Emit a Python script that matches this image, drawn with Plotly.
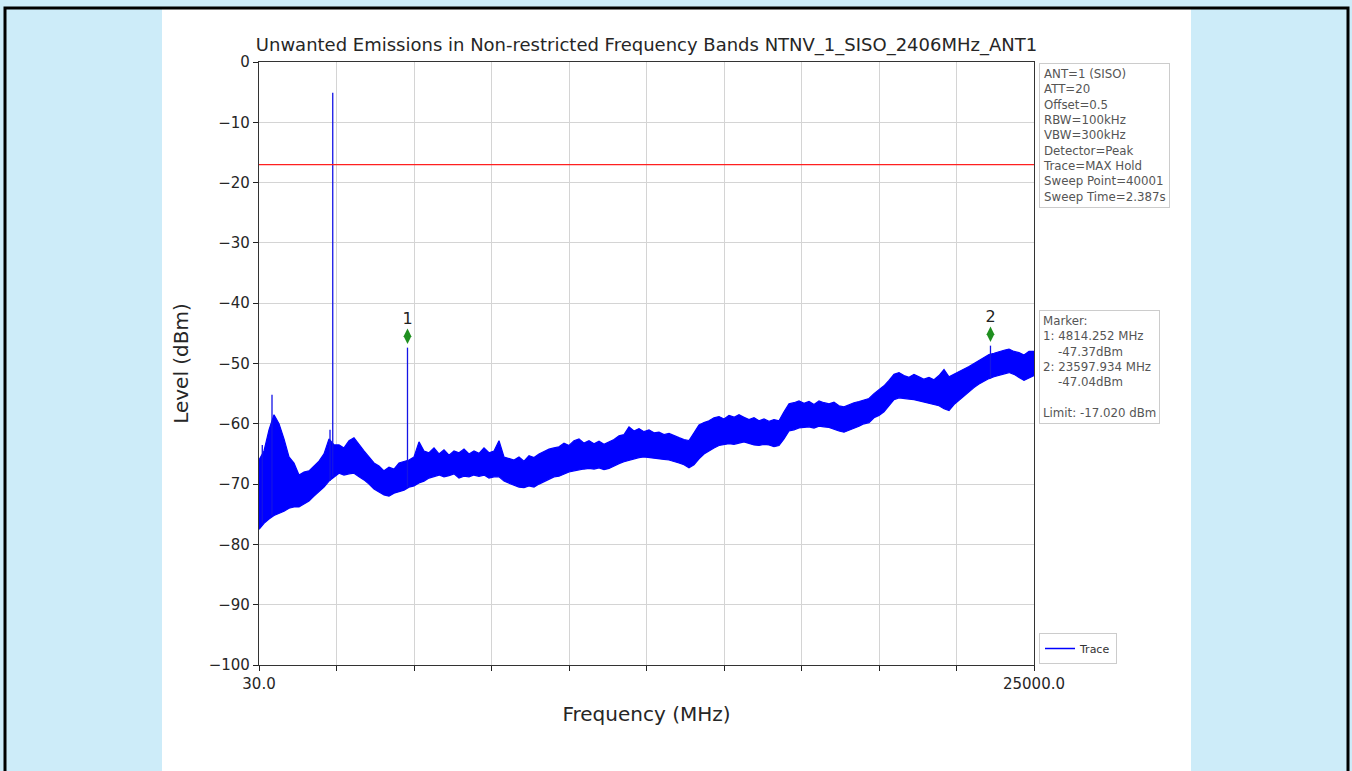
import plotly.graph_objects as go
import numpy as np

# ---------------- data ----------------
title_text = "Unwanted Emissions in Non-restricted Frequency Bands NTNV_1_SISO_2406MHz_ANT1"
f_start, f_stop = 30.0, 25000.0
limit_dbm = -17.020

n_read = 156

# upper edge of the max-hold trace (dBm)
upper_level = [
    -66.0, -64.5, -61.0, -58.5, -60.0, -62.5, -65.5, -66.5, -68.5, -68.0,
    -67.8, -67.0, -66.2, -65.0, -62.5, -63.5, -63.5, -64.0, -62.8, -62.3,
    -63.5, -64.5, -65.5, -66.5, -67.0, -67.8, -67.2, -67.5, -66.5, -66.3,
    -66.0, -65.5, -63.0, -64.5, -64.8, -64.0, -65.0, -64.3, -65.2, -64.5,
    -64.8, -64.2, -65.0, -64.5, -64.9, -64.0, -64.8, -64.5, -62.8, -65.5,
    -65.7, -66.0, -65.5, -66.2, -65.3, -65.6, -65.0, -64.6, -64.2, -64.0,
    -63.8, -63.2, -63.6, -62.8, -62.5, -63.2, -62.8, -63.3, -62.9, -63.4,
    -63.0, -62.6, -62.0, -61.8, -60.5, -61.2, -60.8, -61.3, -61.0, -61.5,
    -61.4, -61.8, -61.6, -62.0, -62.3, -62.6, -62.8, -61.5, -60.2, -59.8,
    -59.5, -59.0, -58.8, -59.2, -58.6, -58.9, -58.5, -58.9, -59.3, -59.0,
    -59.5, -59.2, -59.6, -59.3, -59.5, -58.0, -56.7, -56.5, -56.2, -56.6,
    -56.3, -56.8, -56.2, -56.5, -56.7, -56.4, -57.0, -57.2, -56.8, -56.5,
    -56.3, -56.0, -55.8, -55.0, -54.3, -53.7, -52.8, -51.8, -51.5, -52.0,
    -52.3, -51.8, -52.2, -52.6, -52.3, -52.7, -52.0, -51.0, -52.2, -51.8,
    -51.3, -50.9, -50.5, -50.0, -49.5, -49.0, -48.5, -48.3, -48.0, -47.8,
    -47.6, -48.0, -48.2, -48.6, -48.0, -48.0,
]

# lower edge of the max-hold trace (dBm)
lower_level = [
    -77.5, -76.5, -75.8, -75.2, -74.8, -74.5, -74.0, -73.8, -73.8, -73.3,
    -72.8, -72.0, -71.2, -70.5, -69.5, -68.8, -68.2, -68.5, -68.3, -68.2,
    -68.8, -69.3, -70.0, -70.8, -71.3, -71.8, -72.0, -71.5, -71.2, -71.0,
    -70.5, -70.3, -69.8, -69.5, -69.0, -68.7, -68.5, -68.8, -68.6, -68.3,
    -69.0, -68.7, -68.8, -68.5, -68.7, -68.5, -69.0, -68.8, -68.8, -69.5,
    -69.8, -70.2, -70.5, -70.6, -70.3, -70.5, -70.0, -69.5, -69.2, -68.8,
    -68.7, -68.3, -68.0, -67.8, -67.6, -67.5, -67.4, -67.5, -67.3, -67.6,
    -67.4, -67.0, -66.6, -66.3, -66.0, -65.8, -65.6, -65.5, -65.6, -65.7,
    -65.8, -65.9, -66.0, -66.2, -66.5, -66.8, -67.3, -66.8, -65.8, -65.0,
    -64.5, -64.0, -63.6, -63.5, -63.3, -63.4, -63.2, -63.0, -63.3, -63.5,
    -63.6, -63.4, -63.5, -63.8, -63.6, -62.5, -61.2, -61.0, -60.7, -60.6,
    -60.5, -60.7, -60.4, -60.5, -60.6, -60.9, -61.2, -61.4, -61.0, -60.7,
    -60.4, -60.0, -59.8, -59.0, -58.6, -58.0, -57.0, -56.0, -55.7, -55.8,
    -55.9, -56.0, -56.2, -56.3, -56.5, -56.8, -57.0, -57.5, -57.8, -56.8,
    -56.0, -55.3, -54.7, -54.0, -53.4, -52.9, -52.5, -52.2, -51.9, -51.7,
    -51.5, -51.8, -52.3, -52.8, -52.4, -52.0,
]

# narrow spikes standing out of the trace (MHz, dBm)
spike_freq = [136, 449, 2318, 2406, 4814.252, 23597.934]
spike_level = [-63.5, -55.2, -61.0, -5.1, -47.37, -47.04]

marker_ids = ["1", "2"]
marker_freq = [4814.252, 23597.934]
marker_level = [-47.37, -47.04]

info_lines = ["ANT=1 (SISO)", "ATT=20", "Offset=0.5", "RBW=100kHz", "VBW=300kHz",
              "Detector=Peak", "Trace=MAX Hold", "Sweep Point=40001", "Sweep Time=2.387s"]

y_ticks = list(range(0, -101, -10))

# ---------------- layout geometry (pixels) ----------------
W, H = 1352, 771
L, R, T, B = 259, 1034, 62, 665
pw, ph = R - L, B - T


def px_x(px):
    return (px - L) / pw


def px_y(py):
    return (B - py) / ph


BLUE = "#0000ff"
FONT = "DejaVu Sans"
TXT = "#262626"

read_freq = np.linspace(f_start, f_stop, n_read)

fig = go.Figure()

# filled band of the trace: upper edge then lower edge reversed
band_x = list(read_freq) + list(read_freq[::-1])
band_y = list(upper_level) + list(lower_level[::-1])
fig.add_trace(go.Scatter(x=band_x, y=band_y, mode="lines", fill="toself",
                         fillcolor=BLUE, line=dict(color=BLUE, width=1.2),
                         showlegend=False, hoverinfo="skip"))

# spikes: vertical strokes from the band's lower edge up to the read peak level
sx, sy = [], []
for f, lv in zip(spike_freq, spike_level):
    i = int(np.argmin(np.abs(read_freq - f)))
    sx += [f, f, None]
    sy += [lower_level[i], lv, None]
fig.add_trace(go.Scatter(x=sx, y=sy, mode="lines", line=dict(color="#1414e6", width=1.3),
                         showlegend=False, hoverinfo="skip"))

# legend entry
fig.add_trace(go.Scatter(x=[None], y=[None], mode="lines", name="Trace",
                         line=dict(color=BLUE, width=1.5)))

# limit line
fig.add_trace(go.Scatter(x=[f_start, f_stop], y=[limit_dbm, limit_dbm], mode="lines",
                         line=dict(color="#ff2020", width=1.1), showlegend=False,
                         hoverinfo="skip"))

# markers (symbol drawn slightly above the measured level)
marker_offset = 1.9
fig.add_trace(go.Scatter(x=marker_freq, y=[v + marker_offset for v in marker_level],
                         mode="markers+text", text=marker_ids, textposition="top center",
                         textfont=dict(family=FONT, size=16, color="#222"),
                         marker=dict(symbol="diamond-tall", size=11, color="#1f8f1f",
                                     line=dict(width=0)),
                         showlegend=False, hoverinfo="skip"))

x_ticks = list(np.linspace(f_start, f_stop, 11))
x_ticktext = ["%.1f" % f_start] + [""] * 9 + ["%.1f" % f_stop]

fig.update_xaxes(range=[f_start, f_stop], tickvals=x_ticks, ticktext=x_ticktext,
                 ticks="outside", ticklen=5, tickcolor="#222", showgrid=True,
                 gridcolor="#d4d4d4", gridwidth=1, showline=True, linecolor="#333",
                 linewidth=1.2, mirror=True, zeroline=False,
                 tickfont=dict(family=FONT, size=15, color=TXT),
                 title=dict(text="Frequency (MHz)", font=dict(family=FONT, size=20, color=TXT),
                            standoff=14))
fig.update_yaxes(range=[-100, 0], tickvals=y_ticks,
                 ticktext=[("\u2212%d" % -v) if v < 0 else "0" for v in y_ticks],
                 ticks="outside", ticklen=5, tickcolor="#222", showgrid=True,
                 gridcolor="#d4d4d4", gridwidth=1, showline=True, linecolor="#333",
                 linewidth=1.2, mirror=True, zeroline=False,
                 tickfont=dict(family=FONT, size=15, color=TXT),
                 title=dict(text="Level (dBm)", font=dict(family=FONT, size=20, color=TXT),
                            standoff=14))

shapes = [
    dict(type="rect", xref="paper", yref="paper", x0=px_x(162), x1=px_x(1191),
         y0=px_y(800), y1=px_y(8), fillcolor="white", line=dict(width=0), layer="below"),
    dict(type="rect", xref="paper", yref="paper", x0=px_x(5), x1=px_x(1348),
         y0=px_y(800), y1=px_y(8), fillcolor="rgba(0,0,0,0)", line=dict(color="black", width=3),
         layer="below"),
]

box_font = dict(family=FONT, size=11.8, color="#555")
annotations = [
    dict(xref="paper", yref="paper", x=px_x(1039), y=px_y(63), xanchor="left", yanchor="top",
         align="left", showarrow=False, text="<br>".join(info_lines),
         font=box_font, bgcolor="white",
         bordercolor="#cccccc", borderwidth=1, borderpad=3),
    dict(xref="paper", yref="paper", x=px_x(1039), y=px_y(310), xanchor="left", yanchor="top",
         align="left", showarrow=False,
         text="<br>".join(["Marker:"] +
                          sum([["%s: %.3f MHz" % (i, f), "\u00a0\u00a0\u00a0\u00a0%.2fdBm" % lv]
                               for i, f, lv in zip(marker_ids, marker_freq, marker_level)], []) +
                          ["", "Limit: %.3f dBm" % limit_dbm]),
         font=box_font, bgcolor="white",
         bordercolor="#cccccc", borderwidth=1, borderpad=3),
]

fig.update_layout(
    width=W, height=H,
    margin=dict(l=L, r=W - R, t=T, b=H - B, autoexpand=False),
    paper_bgcolor="#cdecf9", plot_bgcolor="white",
    title=dict(text=title_text, x=(L + R) / 2 / W, xanchor="center", y=1 - 45 / H,
               yanchor="middle", font=dict(family=FONT, size=18, color=TXT)),
    shapes=shapes, annotations=annotations,
    legend=dict(x=px_x(1039), y=px_y(664), xanchor="left", yanchor="bottom",
                bgcolor="white", bordercolor="#cccccc", borderwidth=1,
                font=dict(family=FONT, size=11, color="#333"), itemwidth=30),
    showlegend=True,
)

fig.write_html("out.html", config={"displayModeBar": False},
               post_script="document.body.style.margin='0';"
                           "document.body.style.background='#cdecf9';")
